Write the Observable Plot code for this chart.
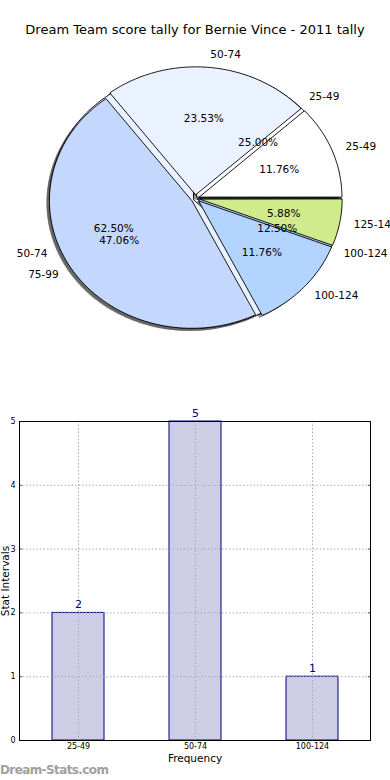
<!DOCTYPE html>
<html><head><meta charset="utf-8">
<script src="https://cdn.jsdelivr.net/npm/d3@7"></script>
<script src="https://cdn.jsdelivr.net/npm/@observablehq/plot@0.6"></script>
<style>
body{margin:0;background:#fff;}
#root{position:relative;width:390px;height:780px;overflow:hidden;font-family:"DejaVu Sans",sans-serif;}
#title{position:absolute;left:0;top:22px;width:390px;text-align:center;font-size:13px;line-height:16px;color:#000;}
#pie{position:absolute;left:0;top:0;}
#bar{position:absolute;left:0;top:400px;}
#wm{position:absolute;left:0;top:763px;font-size:12px;font-weight:bold;color:#a0a0a0;line-height:14px;letter-spacing:-0.6px;}
</style></head><body>
<div id="root">
  <div id="pie"></div>
  <div id="title">Dream Team score tally for Bernie Vince - 2011 tally</div>
  <div id="bar"></div>
  <div id="wm">Dream-Stats.com</div>
</div>
<script>
// ---- data ----
const pie1Labels = ["25-49", "50-74", "75-99", "100-124", "125-149"];
const pie1Values = [2, 4, 8, 2, 1];
const pie2Labels = ["25-49", "50-74", "100-124"];
const pie2Values = [2, 5, 1];
const barCategories = ["25-49", "50-74", "100-124"];
const barValues = [2, 5, 1];
const yTicks = [0, 1, 2, 3, 4, 5];
const sliceColors = {"25-49": "#ffffff", "50-74": "#eaf1ff", "75-99": "#c4d8fe", "100-124": "#b3d4ff", "125-149": "#cfeb8b"};

function buildPie(labels, values, pieId, radius, explode) {
  const total = d3.sum(values);
  let a0 = 0;
  const rows = [], names = [], pcts = [];
  labels.forEach((lab, i) => {
    const a1 = a0 + values[i] / total * 360;
    const mid = (a0 + a1) / 2 * Math.PI / 180;
    const cx = explode * Math.cos(mid), cy = explode * Math.sin(mid);
    const key = pieId + "-" + lab;
    const color = sliceColors[lab];
    rows.push({key, x: cx, y: cy, color});
    const n = Math.max(2, Math.ceil(a1 - a0));
    for (let k = 0; k <= n; k++) {
      const t = (a0 + (a1 - a0) * k / n) * Math.PI / 180;
      rows.push({key, x: cx + radius * Math.cos(t), y: cy + radius * Math.sin(t), color});
    }
    names.push({text: lab, x: cx + 1.1 * radius * Math.cos(mid), y: cy + 1.1 * radius * Math.sin(mid), right: Math.cos(mid) >= 0});
    pcts.push({text: (values[i] / total * 100).toFixed(2) + "%", x: cx + 0.6 * radius * Math.cos(mid), y: cy + 0.6 * radius * Math.sin(mid)});
    a0 = a1;
  });
  return {rows, names, pcts};
}

const p2 = buildPie(pie2Labels, pie2Values, "p2", 0.985, 0.015);
const p1 = buildPie(pie1Labels, pie1Values, "p1", 0.975, 0.03);
const allNames = p2.names.concat(p1.names);
const allPcts = p2.pcts.concat(p1.pcts);

const pieChart = Plot.plot({
  width: 390, height: 360, margin: 0,
  style: {fontFamily: "DejaVu Sans", fontSize: "10.5px", background: "transparent"},
  x: {domain: [-1, 1], range: [49, 341], axis: null},
  y: {domain: [-1, 1], range: [329, 67], axis: null},
  color: {type: "identity"},
  marks: [
    Plot.line(p2.rows, {x: "x", y: "y", z: "key", fill: "#4a4a4a", fillOpacity: 0.6, stroke: "none", dx: -3, dy: 2.6, curve: "linear-closed"}),
    Plot.line(p1.rows, {x: "x", y: "y", z: "key", fill: "#4a4a4a", fillOpacity: 0.6, stroke: "none", dx: -3, dy: 2.6, curve: "linear-closed"}),
    Plot.line(p2.rows, {x: "x", y: "y", z: "key", fill: "color", stroke: "#000", strokeWidth: 0.9, curve: "linear-closed"}),
    Plot.line(p1.rows, {x: "x", y: "y", z: "key", fill: "color", stroke: "#000", strokeWidth: 0.9, curve: "linear-closed"}),
    Plot.text(allNames.filter(d => d.right), {x: "x", y: "y", text: "text", textAnchor: "start", fill: "#000"}),
    Plot.text(allNames.filter(d => !d.right), {x: "x", y: "y", text: "text", textAnchor: "end", fill: "#000"}),
    Plot.text(allPcts, {x: "x", y: "y", text: "text", fill: "#000"})
  ]
});
document.getElementById("pie").appendChild(pieChart);

const barData = barCategories.map((c, i) => ({cat: c, value: barValues[i]}));
const noLabel = () => "";
const barChart = Plot.plot({
  width: 390, height: 380,
  marginTop: 21, marginBottom: 40, marginLeft: 19, marginRight: 20,
  style: {fontFamily: "DejaVu Sans", fontSize: "10px", background: "transparent"},
  x: {type: "band", domain: barCategories, paddingInner: 0.556, paddingOuter: 0.278, label: null},
  y: {domain: [0, 5], label: null},
  marks: [
    Plot.barY(barData, {x: "cat", y: "value", fill: "#cdcde6", stroke: "#000080", strokeWidth: 1}),
    Plot.gridY({ticks: yTicks, stroke: "#aaaaaa", strokeOpacity: 1, strokeDasharray: "1.5,2"}),
    Plot.gridX({stroke: "#aaaaaa", strokeOpacity: 1, strokeDasharray: "1.5,2"}),
    Plot.axisY({ticks: yTicks, tickFormat: "d", tickSize: 0, tickPadding: 4, fontSize: 8, label: null}),
    Plot.axisY({ticks: yTicks, anchor: "left", tickSize: -3, tickFormat: noLabel, stroke: "#555", label: null}),
    Plot.axisY({ticks: yTicks, anchor: "right", tickSize: -3, tickFormat: noLabel, stroke: "#555", label: null}),
    Plot.axisX({tickSize: 0, tickPadding: 3, fontSize: 8, label: null}),
    Plot.text(barData, {x: "cat", y: "value", text: d => String(d.value), dy: -8, fill: "#000080", fontSize: 11}),
    Plot.frame({stroke: "#000", strokeWidth: 1}),
    Plot.text(["Frequency"], {frameAnchor: "bottom", dy: 21, fontSize: 10.5, fill: "#000"}),
    Plot.text(["Stat Intervals"], {frameAnchor: "left", textAnchor: "middle", dx: -14, rotate: -90, fontSize: 10.5, fill: "#000"})
  ]
});
document.getElementById("bar").appendChild(barChart);
</script>
</body></html>
